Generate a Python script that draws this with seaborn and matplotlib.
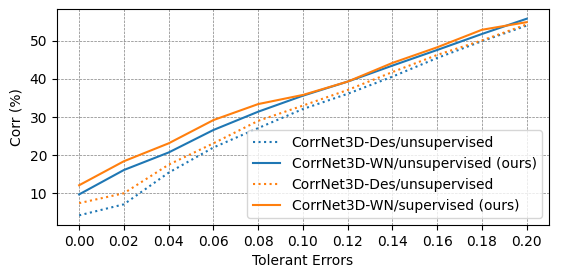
import numpy as np
import pandas as pd
import matplotlib
matplotlib.use("Agg")
import matplotlib.pyplot as plt
import seaborn as sns

# tolerant error thresholds
errors = [0.00, 0.02, 0.04, 0.06, 0.08, 0.10, 0.12, 0.14, 0.16, 0.18, 0.20]

# corr (%) per method
des_unsup = [4.2, 7.1, 15.4, 22.0, 27.1, 32.1, 36.1, 40.6, 45.5, 49.9, 54.0]
wn_unsup = [9.7, 16.1, 20.7, 26.6, 31.4, 35.6, 39.3, 43.5, 47.6, 51.8, 55.8]
des_sup = [7.4, 10.0, 17.5, 23.1, 29.0, 33.0, 37.1, 41.8, 46.3, 50.1, 54.3]
wn_sup = [12.1, 18.4, 23.1, 29.2, 33.4, 35.8, 39.3, 44.2, 48.3, 52.9, 54.9]

labels = ["CorrNet3D-Des/unsupervised",
          "CorrNet3D-WN/unsupervised (ours)",
          "CorrNet3D-Des/unsupervised",
          "CorrNet3D-WN/supervised (ours)"]

fig, ax = plt.subplots(figsize=(5.62, 2.78), dpi=100)
fig.subplots_adjust(left=0.101, right=0.977, bottom=0.19, top=0.968)

series = [(des_unsup, "tab:blue", ":"),
          (wn_unsup, "tab:blue", "-"),
          (des_sup, "tab:orange", ":"),
          (wn_sup, "tab:orange", "-")]
for (vals, color, ls), lab in zip(series, labels):
    sns.lineplot(x=errors, y=vals, ax=ax, color=color, linestyle=ls,
                 linewidth=1.5, label=lab)

ax.set_xticks(errors)
ax.set_xticklabels([f"{e:.2f}" for e in errors])
ax.grid(True, linestyle="--", color="gray", linewidth=0.5)
ax.set_xlabel("Tolerant Errors")
ax.set_ylabel("Corr (%)")
ax.legend(loc="lower right")

fig.savefig("out.png", dpi=100)
